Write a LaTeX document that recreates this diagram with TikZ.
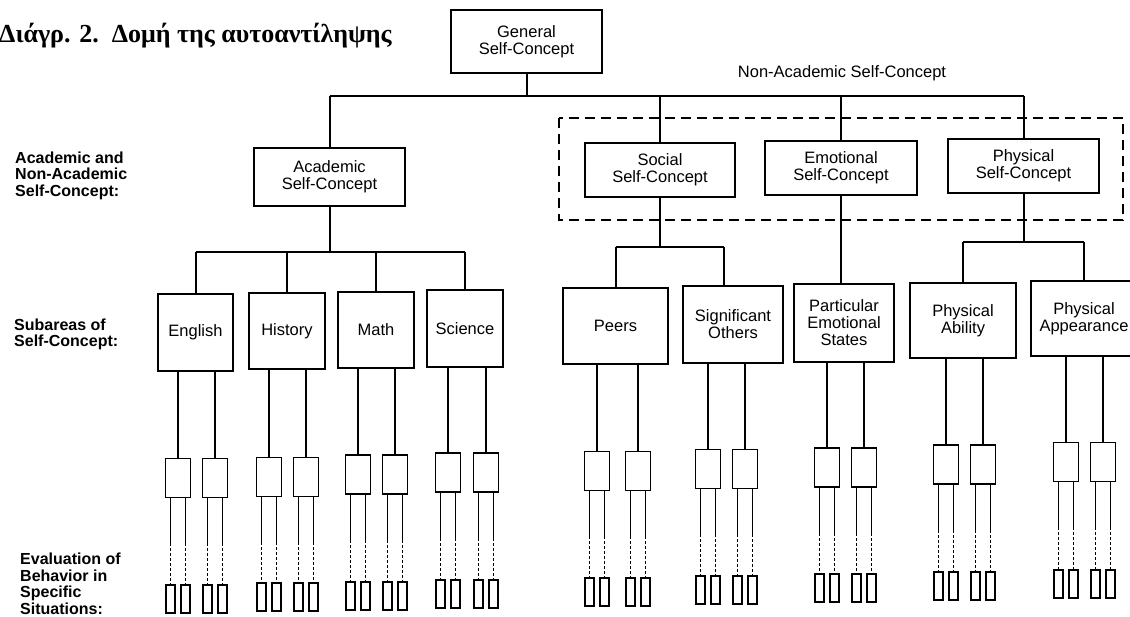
\documentclass[tikz,border=0pt]{standalone}
\usepackage{fontspec}
\setmainfont{Liberation Serif}
\setsansfont{Liberation Sans}
\usetikzlibrary{calc}
\begin{document}
\begin{tikzpicture}[x=1pt,y=-1pt,
  box/.style={draw, line width=2pt, inner sep=0pt, align=center, font=\sffamily\fontsize{16.5}{17}\selectfont},
  conn/.style={line width=2pt},
  smallbox/.style={draw, line width=1.8pt, minimum width=25pt, minimum height=39pt, inner sep=0pt},
  tinybox/.style={draw, line width=1.5pt, minimum width=9pt, minimum height=28pt, inner sep=0pt},
  leg/.style={line width=1.8pt},
  subleg/.style={line width=1.8pt},
  subdash/.style={line width=1.8pt, dash pattern=on 3pt off 2pt},
  side/.style={font=\sffamily\bfseries\fontsize{16}{16.5}\selectfont, align=left, anchor=west, inner sep=0pt},
  dashbox/.style={line width=2pt, dash pattern=on 10pt off 6pt},
]
\clip (0,0) rectangle (1130,616);

% title
\node[anchor=base west, inner sep=0pt, font=\bfseries\fontsize{26}{30}\selectfont] (title) at (-1,42) {Διάγρ. 2.\ \ Δομή της αυτοαντίληψης};

% side labels
\node[side] (lab1) at (15,175.5) {Academic and\\Non-Academic\\Self-Concept:};
\node[side] (lab2) at (14,334.5) {Subareas of\\Self-Concept:};
\node[side] (lab3) at (20,584) {Evaluation of\\Behavior in\\Specific\\Situations:};

% top
\node[box, minimum width=151pt, minimum height=63pt] (gen) at (526.5,41.5) {General\\Self-Concept};
\node[inner sep=0pt, font=\sffamily\fontsize{16.5}{17}\selectfont] (nonac) at (842,73) {Non-Academic Self-Concept};

% level 1
\node[box, minimum width=151pt, minimum height=58pt] (aca) at (329.5,177) {Academic\\Self-Concept};
\node[box, minimum width=150pt, minimum height=54pt] (soc) at (660,170) {Social\\Self-Concept};
\node[box, minimum width=152pt, minimum height=54pt] (emo) at (841,168) {Emotional\\Self-Concept};
\node[box, minimum width=151pt, minimum height=54pt] (phy) at (1023.5,166) {Physical\\Self-Concept};

\draw[dashbox] (559,118) rectangle (1123,220);

\coordinate (hbar) at (0,96);
\draw[conn] (gen.south) -- (gen.south |- hbar);
\draw[conn] (aca.north |- hbar) -- (phy.north |- hbar);
\foreach \n in {aca,soc,emo,phy}{\draw[conn] (\n.north) -- (\n.north |- hbar);}

% level 2
\node[box, minimum width=75pt, minimum height=77pt] (eng) at (195.5,332.5) {English};
\node[box, minimum width=76pt, minimum height=76pt] (his) at (287,331) {History};
\node[box, minimum width=76pt, minimum height=76pt] (mat) at (376,330) {Math};
\node[box, minimum width=76pt, minimum height=77pt] (sci) at (465,328.5) {Science};
\node[box, minimum width=105pt, minimum height=76pt] (pee) at (615.5,326) {Peers};
\node[box, minimum width=100pt, minimum height=77pt] (sig) at (733,324.5) {Significant\\Others};
\node[box, minimum width=100pt, minimum height=78pt] (par) at (844,323) {Particular\\Emotional\\States};
\node[box, minimum width=106pt, minimum height=75pt] (abi) at (963,320.5) {Physical\\Ability};
\node[box, minimum width=106pt, minimum height=75pt] (app) at (1084,318.5) {Physical\\Appearance};

% academic branch
\coordinate (abar) at (0,252);
\draw[conn] (aca.south) -- (aca.south |- abar);
\draw[conn] (eng.north |- abar) -- (sci.north |- abar);
\foreach \n in {eng,his,mat,sci}{\draw[conn] (\n.north) -- (\n.north |- abar);}
% social branch
\coordinate (sbar) at (0,247);
\draw[conn] (soc.south) -- (soc.south |- sbar);
\draw[conn] (pee.north |- sbar) -- ($(sig.north |- sbar)+(-9,0)$);
\draw[conn] (pee.north) -- (pee.north |- sbar);
\draw[conn] ($(sig.north)+(-9,0)$) -- ($(sig.north |- sbar)+(-9,0)$);
% emotional branch
\draw[conn] (emo.south) -- (emo.south |- par.north);
% physical branch
\coordinate (pbar) at (0,242);
\draw[conn] (phy.south) -- (phy.south |- pbar);
\draw[conn] (abi.north |- pbar) -- (app.north |- pbar);
\foreach \n in {abi,app}{\draw[conn] (\n.north) -- (\n.north |- pbar);}

% levels 3 and 4
\foreach \g/\la/\lb/\sy/\ty in {eng/178/215/478/599, his/269/306/477/597, mat/358/395/474.5/596, sci/448/486/472.5/594, pee/597/638/471/592, sig/708/745/469/590, par/827/864/467.5/588, abi/946/983/464.5/586, app/1066/1103/462/584}{
  \foreach \k/\xx in {1/\la, 2/\lb}{
    \node[smallbox] (\g-\k) at (\xx,\sy) {};
    \draw[leg] (\g-\k.north) -- (\g-\k.north |- \g.south);
    \foreach \s/\dx in {a/-7.5, b/7.5}{
      \node[tinybox] (\g-\k\s) at (\xx+\dx,\ty) {};
      \draw[subleg] (\g-\k\s.north |- \g-\k.south) -- ++(0,45) coordinate (m);
      \draw[subdash] (m) -- (\g-\k\s.north);
    }
  }
}
\end{tikzpicture}
\end{document}
